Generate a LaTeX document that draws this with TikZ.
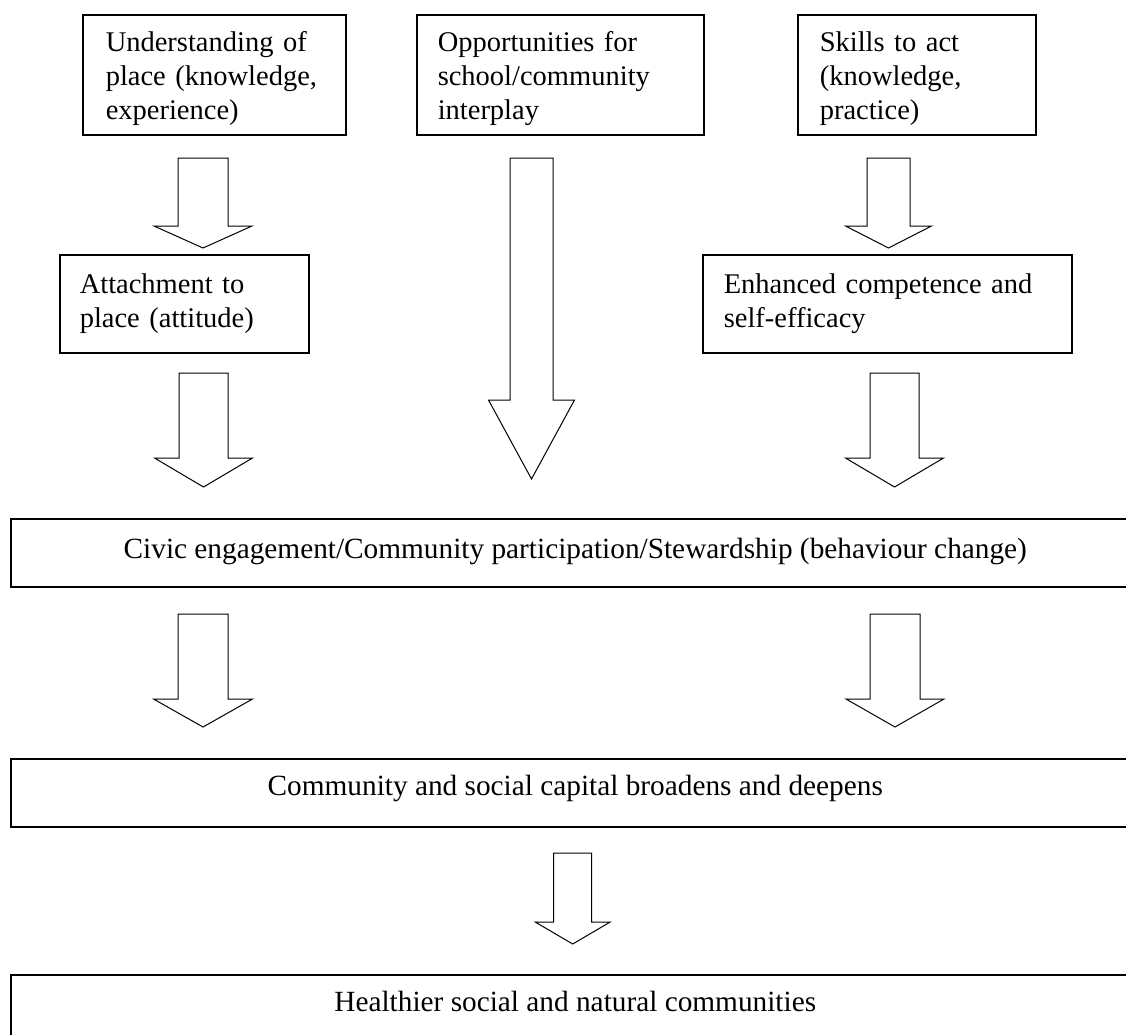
\documentclass[tikz,border=0pt]{standalone}
\usepackage{fontspec}
\setmainfont{Liberation Serif}
\begin{document}
\begin{tikzpicture}[x=1pt,y=-1pt,
  box/.style={draw=black,line width=1.5pt,rectangle,anchor=north west,
    font=\fontsize{28.5}{34}\selectfont,align=left,inner ysep=0pt},
  widebox/.style={draw=black,line width=1.5pt,rectangle,anchor=north west,
    font=\fontsize{29.3}{34}\selectfont,inner sep=0pt,minimum width=1129},
  arr/.style={draw=black,line width=1pt,fill=white,line join=miter}]
\clip (0,0) rectangle (1126,1034);
\fill[white] (0,0) rectangle (1126,1034);
\newcommand\blkarrow[6]{\draw[arr] ({#1-#5},#2) -- ({#1+#5},#2) -- ({#1+#5},#3) -- ({#1+#6},#3) -- (#1,#4) -- ({#1-#6},#3) -- ({#1-#5},#3) -- cycle;}
\newcommand\topstrut{\rule{0pt}{28.2pt}}
% top row
\node[box,minimum width=263,minimum height=120,inner xsep=23,text width=217] (b1) at (82,14)
  {\topstrut Understanding of\\place (knowledge,\\experience)};
\node[box,minimum width=287,minimum height=120,inner xsep=21,text width=245] (b2) at (416,14)
  {\topstrut Opportunities for\\school/community\\interplay};
\node[box,minimum width=238,minimum height=120,inner xsep=22,text width=194] (b3) at (797,14)
  {\topstrut Skills to act\\(knowledge,\\practice)};
% second row
\node[box,minimum width=249,minimum height=98,inner xsep=20,text width=209] (b4) at (59,254)
  {Attachment to\\place (attitude)};
\node[box,minimum width=369,minimum height=98,inner xsep=21,text width=327] (b5) at (702,254)
  {Enhanced competence and\\self-efficacy};
% wide boxes
\node[widebox,text height=40,text depth=28] (b6) at (10,518)
  {Civic engagement/Community participation/Stewardship (behaviour change)};
\node[widebox,text height=37,text depth=31] (b7) at (10,758)
  {Community and social capital broadens and deepens};
\node[widebox,text height=36.7,text depth=45] (b8) at (10,974)
  {Healthier social and natural communities};
% block arrows: centre x, top, head base, tip, shaft half-width, head half-width
\blkarrow{203}{158}{226}{248}{25}{49}       % b1 -> b4
\blkarrow{531.5}{158}{400}{479}{21.5}{43}   % b2 -> b6
\blkarrow{888.5}{158}{226}{248}{21.5}{43}   % b3 -> b5
\blkarrow{203.5}{373}{458}{487}{24.5}{49}   % b4 -> b6
\blkarrow{894.5}{373}{458}{487}{24.5}{49}   % b5 -> b6
\blkarrow{203}{614}{699}{727}{25}{49.5}     % b6 -> b7
\blkarrow{895}{614}{699}{727}{25}{49}       % b6 -> b7
\blkarrow{572.7}{853}{922}{944}{19}{37.5}   % b7 -> b8
\end{tikzpicture}
\end{document}
